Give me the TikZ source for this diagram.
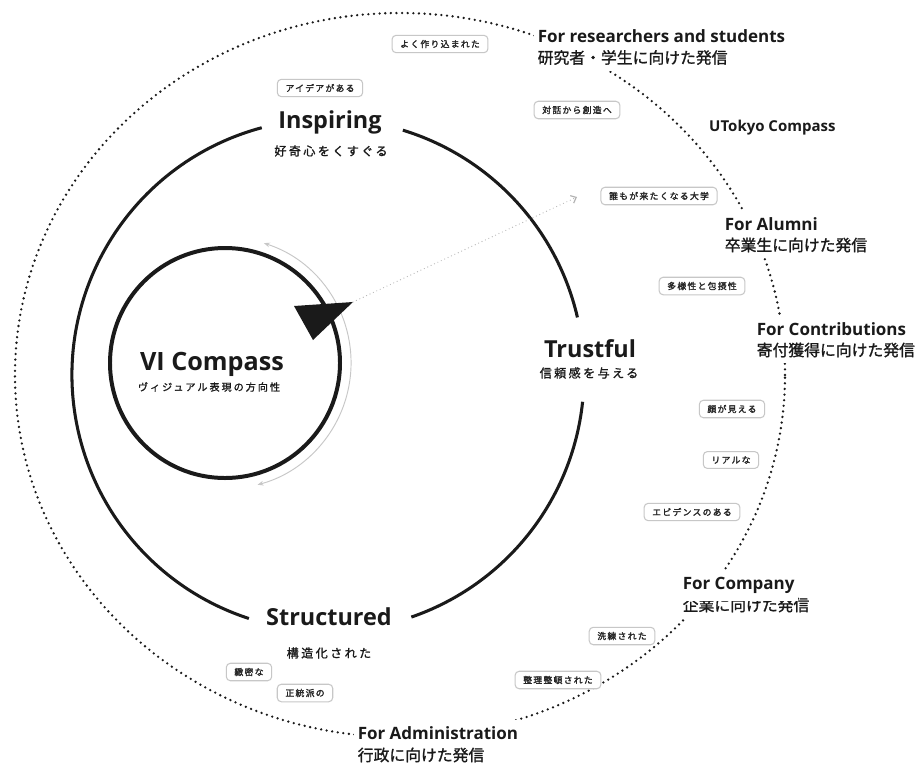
\documentclass[tikz,border=0pt]{standalone}
\usepackage{fontspec}
\setmainfont{Open Sans}
\newfontfamily\jpside{Noto Sans CJK JP}[FakeBold=1.3]
\newfontfamily\jpsub{Noto Sans CJK JP}[FakeBold=1.3,LetterSpace=20]
\newfontfamily\jptag{Noto Sans CJK JP}[FakeBold=2.2,LetterSpace=15]
\usetikzlibrary{arrows.meta}
\definecolor{ink}{HTML}{1A1A1A}
\begin{document}
\begin{tikzpicture}[x=0.03cm,y=-0.03cm,
  tagbox/.style={draw=black!22, line width=0.9pt, rounded corners=3.5pt, fill=white,
    text=black!85, font=\jptag\fontsize{7.5}{8}\selectfont, inner xsep=7pt, inner ysep=4pt},
  bigen/.style={anchor=base, inner sep=0pt, text=ink, font=\bfseries\fontsize{20}{24}\selectfont},
  bigjp/.style={anchor=center, inner sep=0pt, text=ink, font=\jpsub\fontsize{10.3}{12}\selectfont},
  sideen/.style={anchor=base west, fill=white, inner xsep=3pt, inner ysep=6pt, text=ink,
    font=\bfseries\fontsize{14.5}{17}\selectfont},
  sidejp/.style={anchor=west, fill=white, inner xsep=3pt, inner ysep=5pt, text=ink,
    font=\jpside\fontsize{13.5}{16}\selectfont},
  ringmain/.style={line width=2.6pt, ink},
  dotring/.style={line width=2.2pt, ink, line cap=round, dash pattern=on 0pt off 4.8pt},
  grayarc/.style={line width=0.8pt, black!22, {Stealth[length=5pt,width=4pt]}-{Stealth[length=5pt,width=4pt]}},
  graydots/.style={line width=1pt, black!30, line cap=round, dash pattern=on 0pt off 3.2pt,
    -{Straight Barb[length=4pt,width=7pt]}}
]
\useasboundingbox (0,0) rectangle (917,770);
\fill[white] (0,0) rectangle (917,770);

% centres
\coordinate (oc) at (400,375);
\coordinate (mc) at (328,375);
\coordinate (sc) at (225,363);

% outer dotted ring
\draw[dotring] (oc) ellipse[x radius=11.55cm, y radius=10.86cm];

% main ring with gaps
\draw[ringmain] (mc) ++(13:7.68cm) arc[start angle=13, end angle=73, radius=7.68cm];
\draw[ringmain] (mc) ++(105:7.68cm) arc[start angle=105, end angle=252, radius=7.68cm];
\draw[ringmain] (mc) ++(-71:7.68cm) arc[start angle=-71, end angle=-6, radius=7.68cm];

% gray arc around the compass
\draw[grayarc] (sc) ++(72:3.78cm) arc[start angle=72, end angle=-75, radius=3.78cm];

% compass circle
\node[circle, draw=ink, line width=3.4pt, minimum size=6.9cm, inner sep=0pt] (vc) at (sc) {};

% pointer
\coordinate (pa) at (294,306);
\coordinate (pt) at (353,302);
\coordinate (pb) at (313,340);
\fill[ink] (pa) -- (pt) -- (pb) -- cycle;
\coordinate (aim) at (577,197);
\draw[graydots] (pt) -- (aim);

% main labels
\node[bigen] (insp) at (330,128) {Inspiring};
\node[bigjp] (inspjp) at (331,151) {好奇心をくすぐる};
\node[bigen] (trust) at (590,357) {Trustful};
\node[bigjp] (trustjp) at (589,373) {信頼感を与える};
\node[bigen] (struct) at (329,625) {Structured};
\node[bigjp] (structjp) at (329,653) {構造化された};
\node[bigen, font=\bfseries\fontsize{21.5}{24}\selectfont] (vi) at (212,370) {VI Compass};
\node[anchor=center, inner sep=0pt, text=ink, font=\jpsub\fontsize{8.6}{10}\selectfont] (vijp) at (209,387) {ヴィジュアル表現の方向性};

% side labels (Japanese lines first, English on top)
\node[sidejp] (resjp) at (534,57.5) {研究者・学生に向けた発信};
\node[sideen] (res) at (534,42) {For researchers and students};
\node[anchor=base west, inner sep=0pt, text=ink, font=\bfseries\fontsize{12.8}{14}\selectfont] (uto) at (709,131) {UTokyo Compass};
\node[sidejp] (alujp) at (721,245) {卒業生に向けた発信};
\node[sideen] (alu) at (721,230) {For Alumni};
\node[sidejp] (conjp) at (753,350) {寄付獲得に向けた発信};
\node[sideen] (con) at (753,335) {For Contributions};
\node[sidejp] (comjp) at (679,605) {企業に向けた発信};
\node[sideen] (com) at (679,589.5) {For Company};
\node[sidejp] (admjp) at (354,755) {行政に向けた発信};
\node[sideen] (adm) at (354,739.5) {For Administration};

% tags
\node[tagbox] (t1) at (320,88) {アイデアがある};
\node[tagbox] (t2) at (440,44) {よく作り込まれた};
\node[tagbox] (t3) at (577,110) {対話から創造へ};
\node[tagbox] (t4) at (659,196) {誰もが来たくなる大学};
\node[tagbox] (t5) at (702,286) {多様性と包摂性};
\node[tagbox] (t6) at (732,409) {顔が見える};
\node[tagbox] (t7) at (731,460) {リアルな};
\node[tagbox] (t8) at (692,512) {エビデンスのある};
\node[tagbox] (t9) at (622,636) {洗練された};
\node[tagbox] (t10) at (558,680) {整理整頓された};
\node[tagbox] (t11) at (249,672) {緻密な};
\node[tagbox] (t12) at (305,693) {正統派の};
\end{tikzpicture}
\end{document}
